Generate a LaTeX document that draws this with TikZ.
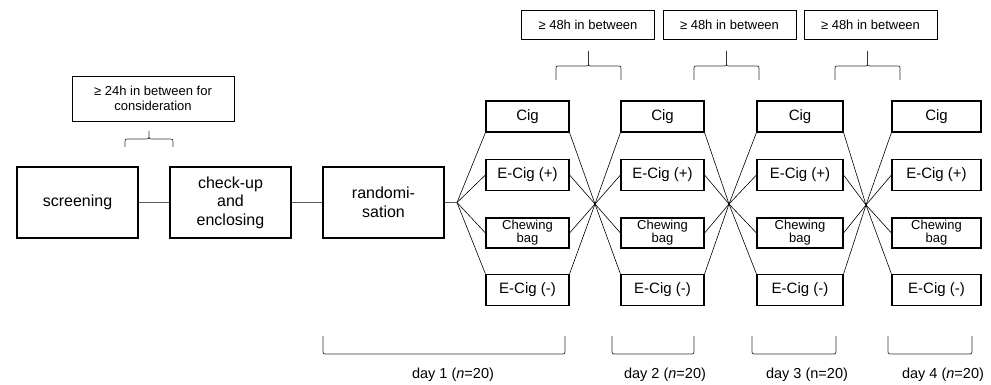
\documentclass[tikz,border=0pt]{standalone}
\usepackage{fontspec}
\setmainfont{Liberation Sans}

\begin{document}
\begin{tikzpicture}[x=1pt,y=-1pt,
  bigbox/.style={draw, line width=1.1pt, minimum width=121pt, minimum height=71pt, inner sep=0pt, align=center, font=\fontsize{16}{18.5}\selectfont},
  armbox/.style={draw, line width=1.1pt, minimum height=31pt, inner sep=0pt, align=center, font=\fontsize{15}{18}\selectfont},
  notebox/.style={draw, line width=0.8pt, inner sep=0pt, align=center, font=\fontsize{13}{15}\selectfont},
  link/.style={line width=1.4pt, black!65},
  arm/.style={line width=0.6pt},
  bracket/.style={line width=0.7pt, black!80},
  daylabel/.style={font=\fontsize{14.5}{17}\selectfont}]
  \useasboundingbox (0,0) rectangle (991,385);
  % main steps
  \node[bigbox] (screen) at (77.5,202.5) {screening};
  \node[bigbox] (check) at (230.5,202.5) {check-up\\and\\enclosing};
  \node[bigbox] (random) at (383.5,202.5) {randomi-\\sation};
  \draw[link] (screen.east) -- (check.west);
  \draw[link] (check.east) -- (random.west);
  % four arms per day
  \foreach \d/\x/\w in {1/527.5/83,2/662.5/83,3/800/86,4/936.5/89}{
    \node[armbox, minimum width=\w pt] (cig\d) at (\x,116.5) {Cig};
    \node[armbox, minimum width=\w pt] (ecp\d) at (\x,175) {E-Cig (+)};
    \node[armbox, minimum width=\w pt, minimum height=30pt, font=\fontsize{13}{13}\selectfont] (chew\d) at (\x,233) {Chewing\\bag};
    \node[armbox, minimum width=\w pt] (ecm\d) at (\x,290) {E-Cig (-)};
  }
  % crossing points
  \coordinate (fan) at (457,202.5);
  \coordinate (x12) at (595,204);
  \coordinate (x23) at (729,204);
  \coordinate (x34) at (866,205);
  \draw[link] (random.east) -- (fan);
  \draw[arm] (fan) -- (cig1.south west);
  \draw[arm] (fan) -- (ecp1.west);
  \draw[arm] (fan) -- (chew1.west);
  \draw[arm] (fan) -- (ecm1.north west);
  \foreach \a/\x/\b in {1/x12/2,2/x23/3,3/x34/4}{
    \draw[arm] (cig\a.south east) -- (\x) -- (ecm\b.north west);
    \draw[arm] (ecp\a.east) -- (\x) -- (chew\b.west);
    \draw[arm] (chew\a.east) -- (\x) -- (ecp\b.west);
    \draw[arm] (ecm\a.north east) -- (\x) -- (cig\b.south west);
  }
  % notes on the gaps
  \node[notebox, minimum width=162pt, minimum height=45pt] (gap0) at (153,98.5) {≥ 24h in between for\\consideration};
  \foreach \n/\x in {1/588,2/729.5,3/870.5}
    \node[notebox, minimum width=133pt, minimum height=29pt] (gap\n) at (\x,24.5) {≥ 48h in between};
  % braces under the notes
  \foreach \c/\h/\t/\m/\e/\r in {149/24/131/139/147/3, 588.5/32.5/51/66/80/4, 726.5/32.5/51/66/80/4, 867.5/32.5/51/66/80/4}
    \draw[bracket] ({\c-\h},\e) -- ({\c-\h},\m+\r) .. controls ({\c-\h},\m) .. ({\c-\h+\r},\m)
      -- ({\c-\r},\m) .. controls (\c,\m) .. (\c,\m-\r) -- (\c,\t)
      (\c,\m-\r) .. controls (\c,\m) .. ({\c+\r},\m) -- ({\c+\h-\r},\m)
      .. controls ({\c+\h},\m) .. ({\c+\h},\m+\r) -- ({\c+\h},\e);
  % days
  \foreach \a/\b in {323/565,612/694,752/836,888/972}
    \draw[bracket, rounded corners=2pt] (\a,336) -- (\a,354) -- (\b,354) -- (\b,336);
  \node[daylabel] (day1) at (453,375) {day 1 (\textit{n}=20)};
  \node[daylabel] (day2) at (665,375) {day 2 (\textit{n}=20)};
  \node[daylabel] (day3) at (807,375) {day 3 (n=20)};
  \node[daylabel] (day4) at (943,375) {day 4 (\textit{n}=20)};
\end{tikzpicture}
\end{document}
